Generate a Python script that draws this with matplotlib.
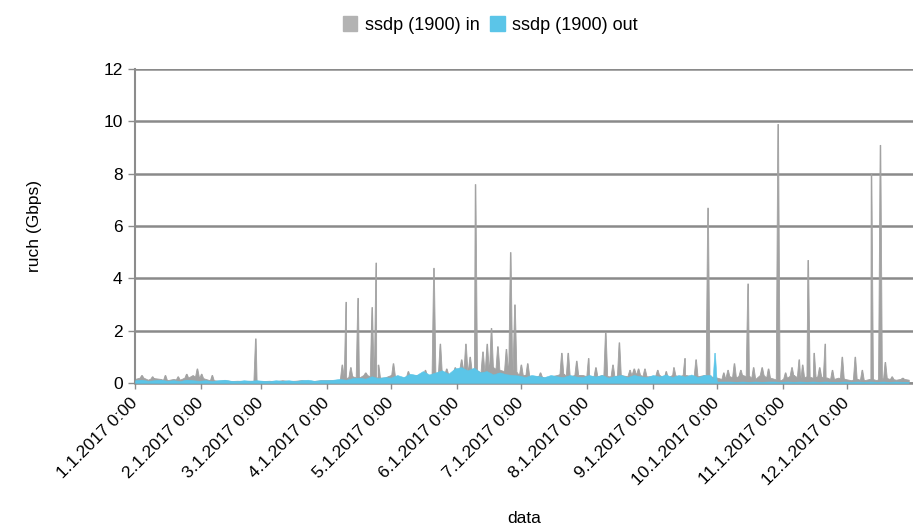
import matplotlib
matplotlib.use("Agg")
import matplotlib.pyplot as plt
import numpy as np
from matplotlib.patches import Patch

# --- data (days since 1.1.2017, Gbps) ---
month_days = [0, 31, 59, 90, 120, 151, 181, 212, 243, 273, 304, 334]
month_labels = [f"{m}.1.2017 0:00" for m in range(1, 13)]

# background traffic sampled every 3 days
base_days = np.arange(0, 366, 3)
in_base = [
    0.15, 0.2, 0.12, 0.18, 0.15, 0.1, 0.15, 0.12, 0.2, 0.3, 0.2,
    0.15, 0.1, 0.08, 0.1, 0.07, 0.08, 0.07, 0.08, 0.07,
    0.07, 0.08, 0.06, 0.1, 0.07, 0.08, 0.1, 0.08, 0.07, 0.1,
    0.1, 0.1, 0.12, 0.2, 0.25, 0.2, 0.3, 0.25, 0.2, 0.2,
    0.3, 0.2, 0.2, 0.25, 0.3, 0.3, 0.3, 0.3, 0.4, 0.3,
    0.4, 0.5, 0.45, 0.5, 0.4, 0.5, 0.6, 0.5, 0.45, 0.5,
    0.3, 0.3, 0.25, 0.25, 0.2, 0.25, 0.3, 0.35, 0.25, 0.3,
    0.3, 0.25, 0.25, 0.3, 0.25, 0.25, 0.3, 0.25, 0.35, 0.3,
    0.25, 0.25, 0.3, 0.2, 0.3, 0.25, 0.3, 0.25, 0.25, 0.3,
    0.25, 0.2, 0.15, 0.25, 0.2, 0.3, 0.25, 0.15, 0.3, 0.2,
    0.15, 0.1, 0.2, 0.3, 0.2, 0.25, 0.2, 0.25, 0.2, 0.15,
    0.2, 0.15, 0.1, 0.15, 0.1, 0.15, 0.1, 0.2, 0.15, 0.12, 0.15, 0.12,
]
out_base = [
    0.1, 0.12, 0.08, 0.1, 0.12, 0.08, 0.1, 0.07, 0.12, 0.1, 0.08,
    0.1, 0.07, 0.1, 0.12, 0.08, 0.07, 0.1, 0.08, 0.1,
    0.08, 0.07, 0.1, 0.08, 0.1, 0.07, 0.1, 0.12, 0.08, 0.1,
    0.1, 0.12, 0.15, 0.12, 0.18, 0.2, 0.16, 0.25, 0.18, 0.22,
    0.2, 0.3, 0.22, 0.35, 0.3, 0.45, 0.32, 0.4, 0.48, 0.35,
    0.55, 0.6, 0.48, 0.58, 0.4, 0.45, 0.32, 0.4, 0.33, 0.3,
    0.28, 0.22, 0.3, 0.26, 0.22, 0.3, 0.25, 0.22, 0.3, 0.24,
    0.22, 0.3, 0.24, 0.3, 0.2, 0.26, 0.3, 0.22, 0.3, 0.25,
    0.22, 0.3, 0.24, 0.32, 0.22, 0.3, 0.24, 0.32, 0.22, 0.3,
    0.3, 0.05, 0.05, 0.05, 0.04, 0.05, 0.04, 0.05, 0.04, 0.05,
    0.05, 0.04, 0.05, 0.04, 0.05, 0.04, 0.05, 0.04, 0.05, 0.04,
    0.04, 0.05, 0.04, 0.05, 0.04, 0.05, 0.04, 0.05, 0.04, 0.05, 0.04, 0.04,
]

# short bursts of incoming traffic
in_spike_days = [3, 8, 14, 20, 24, 29, 31, 36, 56.4,
                 97, 98.8, 101, 104.4, 108, 111.0, 112.9, 114, 121,
                 128, 136, 140, 143, 146, 150,
                 153, 155, 157, 159.5, 163, 165, 167, 170, 174, 176, 178, 181,
                 184, 190, 200, 203, 207, 212.6, 216, 220.6, 224, 227,
                 232, 234, 236, 239, 245, 249, 252.6, 257.8, 263, 268.6,
                 276, 278, 281, 284, 287.4, 290, 294, 297, 301.5, 305, 308,
                 311.4, 313, 315.6, 318.4, 321, 323.6, 327, 331.6, 337.7,
                 341, 345.3, 349.5, 351.8, 355, 360]
in_spike_vals = [0.3, 0.25, 0.3, 0.25, 0.35, 0.55, 0.35, 0.3, 1.7,
                 0.7, 3.1, 0.6, 3.25, 0.4, 2.9, 4.6, 0.7, 0.75,
                 0.45, 0.5, 4.4, 1.5, 0.55, 0.6,
                 0.9, 1.5, 1.0, 7.6, 1.2, 1.5, 2.1, 1.4, 1.3, 5.0, 3.0, 0.7,
                 0.75, 0.4, 1.15, 1.15, 0.85, 0.95, 0.6, 1.95, 0.7, 1.55,
                 0.5, 0.55, 0.55, 0.55, 0.5, 0.45, 0.6, 0.95, 0.9, 6.7,
                 0.4, 0.5, 0.75, 0.5, 3.8, 0.6, 0.6, 0.55, 9.9, 0.4, 0.6,
                 0.9, 0.7, 4.7, 1.15, 0.6, 1.5, 0.5, 1.0, 1.0,
                 0.5, 8.0, 9.1, 0.8, 0.25, 0.2]
out_spike_days = [271.9]
out_spike_vals = [1.15]


def with_spikes(days, base, sdays, svals, half=0.9):
    x = list(days)
    y = list(base)
    for d, v in zip(sdays, svals):
        b = float(np.interp(d, days, base))
        x += [d - half, d - 0.15, d + 0.15, d + half]
        y += [b, v, v, b]
    order = np.argsort(x, kind="stable")
    return np.array(x)[order], np.array(y)[order]


in_x, in_y = with_spikes(base_days, in_base, in_spike_days, in_spike_vals)
out_x, out_y = with_spikes(base_days, out_base, out_spike_days, out_spike_vals)

plt.rcParams["font.family"] = ["Liberation Sans", "DejaVu Sans"]

fig = plt.figure(figsize=(9.13, 5.31), dpi=100)
ax = fig.add_axes([0.148, 0.279, 0.852, 0.591])

gray = "#a2a2a2"
blue = "#5bc5e8"
ax.fill_between(in_x, 0, in_y, color=gray, lw=0.6, ec=gray, zorder=2)
ax.fill_between(out_x, 0, out_y, color=blue, lw=0.4, ec=blue, zorder=3)

ax.set_xlim(0, 365)
ax.set_ylim(0, 12)
ax.set_yticks(range(0, 13, 2))
ax.set_xticks(month_days)
ax.set_xticklabels(month_labels, rotation=45, ha="right", va="center",
                   rotation_mode="anchor", fontsize=12.5)
ax.tick_params(axis="y", labelsize=12.5, length=5, color="#8c8c8c", width=1, pad=4)
ax.tick_params(axis="x", length=4, color="#8c8c8c", width=1, pad=9)

ax.grid(axis="y", color="#8a8a8a", lw=1.8, zorder=1)
ax.set_axisbelow(True)
for side in ["top", "right"]:
    ax.spines[side].set_visible(False)
ax.spines["left"].set_color("#8c8c8c")
ax.spines["left"].set_linewidth(1.5)
ax.spines["bottom"].set_color("#8c8c8c")
ax.spines["bottom"].set_linewidth(1.8)

ax.set_ylabel("ruch (Gbps)", fontsize=12.5, labelpad=44)
ax.set_xlabel("data", fontsize=12.5, labelpad=16)

handles = [Patch(color="#b3b3b3", label="ssdp (1900) in"),
           Patch(color=blue, label="ssdp (1900) out")]
fig.legend(handles=handles, loc="center", bbox_to_anchor=(0.537, 0.953), ncol=2,
           frameon=False, fontsize=13, handlelength=0.8, handleheight=0.9,
           handletextpad=0.4, columnspacing=0.6)

fig.savefig("out.png", dpi=100)
